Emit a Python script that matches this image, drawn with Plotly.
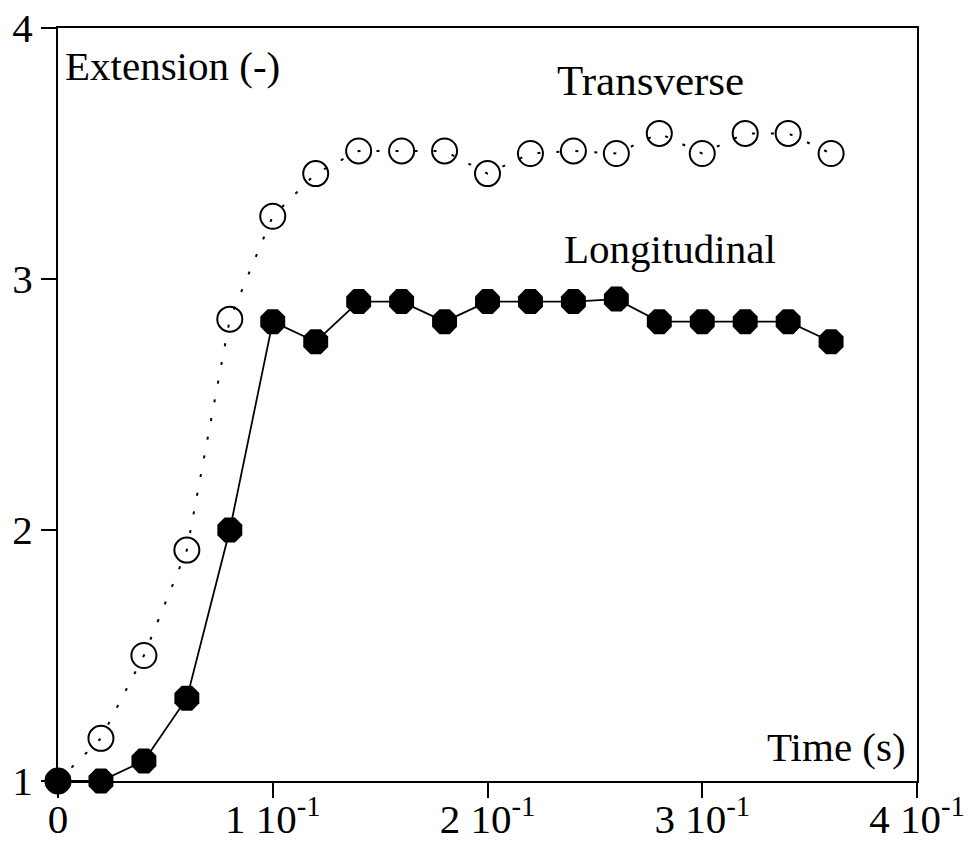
import plotly.graph_objects as go

time_s = [0, 0.02, 0.04, 0.06, 0.08, 0.10, 0.12, 0.14, 0.16, 0.18,
          0.20, 0.22, 0.24, 0.26, 0.28, 0.30, 0.32, 0.34, 0.36]
longitudinal = [1.0, 1.0, 1.08, 1.33, 2.0, 2.83, 2.75, 2.91, 2.91, 2.83,
                2.91, 2.91, 2.91, 2.92, 2.83, 2.83, 2.83, 2.83, 2.75]
transverse = [1.0, 1.17, 1.5, 1.92, 2.84, 3.25, 3.42, 3.51, 3.51, 3.51,
              3.42, 3.50, 3.51, 3.50, 3.58, 3.50, 3.58, 3.58, 3.50]
x_tickvals = [0, 0.1, 0.2, 0.3, 0.4]
x_ticktext = ["0", "1 10<sup>-1</sup>", "2 10<sup>-1</sup>", "3 10<sup>-1</sup>", "4 10<sup>-1</sup>"]
y_tickvals = [1, 2, 3, 4]

FONT = "Liberation Serif, Times New Roman, serif"
FS = 41

fig = go.Figure()
fig.add_trace(go.Scatter(
    x=time_s, y=transverse, mode="lines+markers", name="Transverse",
    line=dict(color="black", width=2, dash="3px,16px"),
    marker=dict(symbol="circle-open", size=25, color="black", line=dict(width=2, color="black")),
    cliponaxis=False,
))
fig.add_trace(go.Scatter(
    x=time_s, y=longitudinal, mode="lines+markers", name="Longitudinal",
    line=dict(color="black", width=1.8),
    marker=dict(symbol="octagon", size=27, color="black", line=dict(width=0)),
    cliponaxis=False,
))

fig.update_layout(
    width=968, height=847,
    margin=dict(l=58, r=51, t=28, b=66),
    paper_bgcolor="white", plot_bgcolor="white",
    showlegend=False,
    font=dict(family=FONT, size=FS, color="black"),
    xaxis=dict(range=[0, 0.4], tickvals=x_tickvals, ticktext=x_ticktext,
               ticks="outside", ticklen=15, tickwidth=2, tickcolor="black",
               showline=True, linewidth=2, linecolor="black", mirror=True,
               showgrid=False, zeroline=False, automargin=False,
               ticklabelstandoff=-14, ticklabeloverflow="allow",
               tickfont=dict(family=FONT, size=FS, color="black")),
    yaxis=dict(range=[1, 4], tickvals=y_tickvals,
               ticks="outside", ticklen=15, tickwidth=2, tickcolor="black",
               showline=True, linewidth=2, linecolor="black", mirror=True,
               showgrid=False, zeroline=False, automargin=False,
               ticklabeloverflow="allow",
               tickfont=dict(family=FONT, size=FS, color="black")),
    annotations=[
        dict(text="Extension (-)", xref="paper", yref="paper", x=0.006, y=0.95,
             xanchor="left", yanchor="middle", showarrow=False,
             font=dict(family=FONT, size=FS, color="black")),
        dict(text="Transverse", xref="x", yref="y", x=0.276, y=3.79,
             xanchor="center", yanchor="middle", showarrow=False,
             font=dict(family=FONT, size=43, color="black")),
        dict(text="Longitudinal", xref="x", yref="y", x=0.285, y=3.12,
             xanchor="center", yanchor="middle", showarrow=False,
             font=dict(family=FONT, size=FS, color="black")),
        dict(text="Time (s)", xref="paper", yref="paper", x=0.99, y=0.045,
             xanchor="right", yanchor="middle", showarrow=False,
             font=dict(family=FONT, size=FS, color="black")),
    ],
)

fig.write_html("out.html", config={"displayModeBar": False},
               post_script="document.body.style.margin='0px';")
